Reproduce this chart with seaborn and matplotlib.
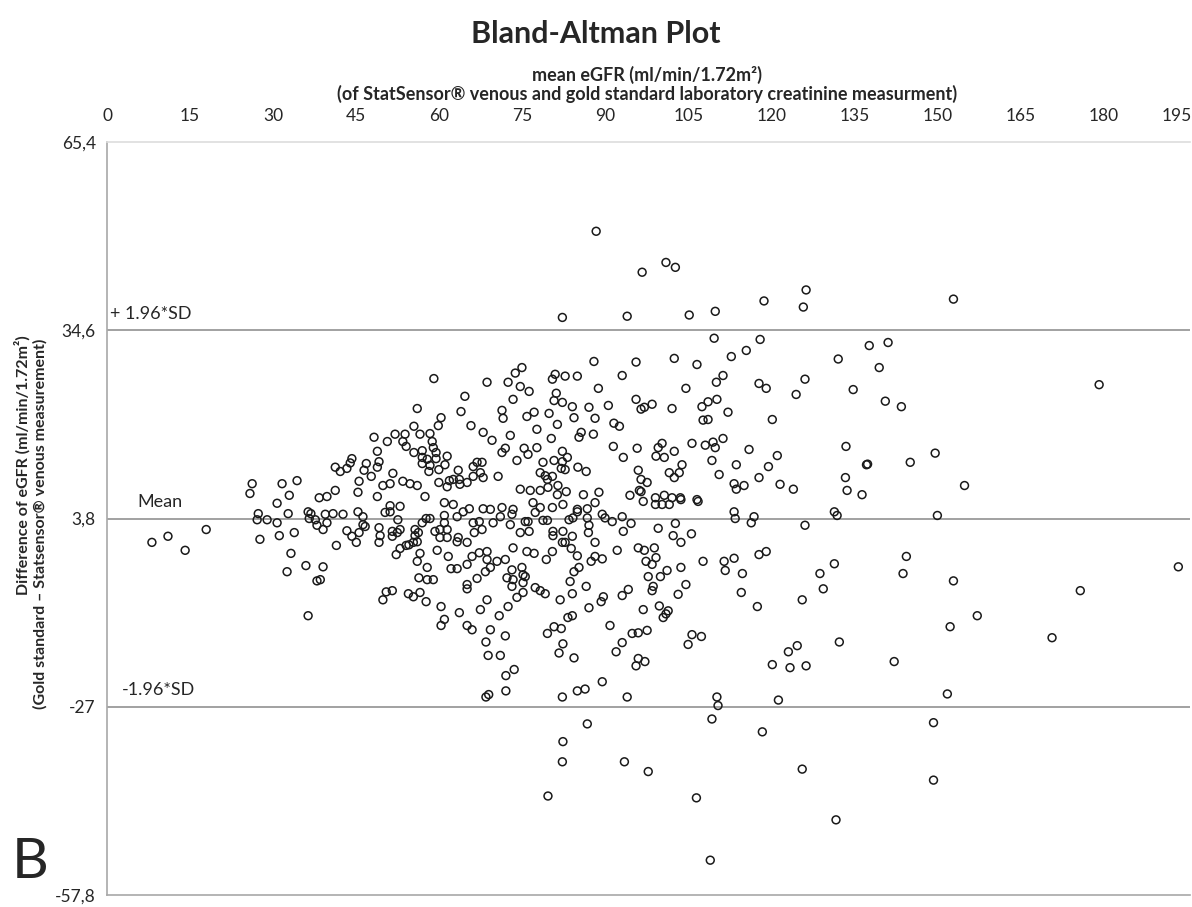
import matplotlib
matplotlib.use("Agg")
import matplotlib.pyplot as plt
import matplotlib.transforms as mtransforms
import seaborn as sns
import pandas as pd

# Bland-Altman data: mean eGFR (x) and difference (y)
mean_egfr = [
    8.1, 11.0, 14.1, 17.9,
    26.2, 25.8, 31.6, 34.3, 32.9, 30.7, 27.3, 27.1, 28.9, 30.7, 32.7, 36.3, 36.8, 36.5, 37.6, 37.9,
    27.6, 31.1, 33.8, 33.2, 35.9, 32.5, 37.9, 36.3, 38.3,
    59.0, 56.0, 60.3, 59.8, 55.4, 56.5, 58.3, 53.8, 52.0, 48.2, 50.6, 53.4, 54.0, 58.7, 56.9, 58.9,
    59.4, 55.4, 48.8, 61.4, 56.9, 57.8, 59.4, 56.9, 58.3, 61.0, 49.1, 46.8, 44.2, 43.9, 41.2, 42.1,
    43.3, 46.4, 47.7, 48.8, 51.6, 45.5, 49.8, 51.1, 53.4, 54.7, 56.0, 58.1, 59.9, 59.9, 61.8, 63.4,
    63.6, 65.0, 66.1, 66.8, 67.7, 67.4, 67.9, 66.1, 70.6, 74.0, 71.9, 71.3, 69.5, 67.9, 72.8, 65.7,
    63.9, 71.3, 71.5, 64.6, 68.6, 72.4, 73.3, 73.7, 41.2, 45.3, 48.8, 39.7, 57.4, 62.5, 63.7, 61.4,
    39.4, 40.8, 42.6, 39.7, 39.0, 41.4, 39.0, 38.5, 43.3, 44.2, 45.0, 45.5, 45.3, 46.2, 46.2, 46.6,
    49.1, 49.3, 49.1, 50.2, 51.1, 51.1, 52.9, 52.5, 51.5, 52.4, 51.5, 52.9, 52.2, 52.9, 54.0, 54.5,
    55.3, 56.0, 55.6, 56.2, 55.6, 56.5, 56.0, 56.9, 57.6, 58.3, 57.8, 59.6, 59.2, 60.1, 60.1, 60.9,
    60.9, 61.4, 60.9, 62.5, 61.4, 61.6, 62.1, 63.2, 63.2, 63.4, 63.2, 64.3, 65.0, 65.4, 66.1, 66.3,
    67.7, 67.2, 65.9, 67.2, 65.0, 68.6, 68.6, 69.2, 68.3, 70.4, 66.8, 65.0, 65.0, 67.9, 69.2, 69.7,
    71.3, 71.0, 73.1, 73.3, 72.8, 73.3, 71.9, 73.1, 72.2, 73.3, 73.1, 74.0, 72.4, 68.6, 67.4, 70.8,
    69.2, 71.9, 68.4, 68.8, 71.0, 72.0, 73.5, 72.0, 68.4, 68.9, 65.0, 65.9, 63.6, 60.9, 60.3, 60.3,
    57.6, 56.5, 55.3, 54.4, 51.5, 50.4, 49.8, 56.3, 57.8, 58.9,
    88.3, 96.6, 100.9, 102.6, 82.2, 93.9, 105.1, 109.8, 109.6, 87.9, 95.5, 102.4, 106.5, 74.9, 80.9,
    80.4, 82.7, 84.9, 93.0, 88.7, 104.5, 110.0, 110.1, 74.6, 76.2, 81.1, 80.7, 82.2, 84.0, 87.0,
    90.5, 95.5, 96.4, 97.0, 98.4, 102.0, 107.4, 108.5, 77.1, 75.8, 79.8, 84.3, 88.1, 107.6, 108.5,
    77.6, 81.3, 91.5, 92.5, 85.6, 85.2, 87.8, 80.2, 75.3, 77.6, 76.0, 91.4, 95.7, 99.5, 100.2, 102.4,
    105.6, 108.0, 109.4, 109.8, 82.2, 83.1, 80.7, 82.2, 78.7, 93.2, 99.1, 100.6, 109.2, 103.8, 82.0,
    82.7, 85.0, 86.5, 78.2, 79.1, 80.4, 79.5, 95.9, 96.4, 97.5, 101.5, 103.3, 102.4, 110.5, 79.6,
    81.4, 74.6, 76.4, 78.2, 82.9, 88.8, 86.0, 81.3, 96.1, 96.4, 94.4, 100.6, 99.0, 102.0, 103.5, 106.5,
    76.9, 78.2, 80.4, 82.3, 84.9, 86.7, 88.1, 77.3, 75.5, 76.0, 78.7, 79.5, 83.4, 84.1, 84.9, 86.7,
    89.4, 89.9, 91.2, 93.0, 94.6, 96.8, 99.0, 100.2, 101.5, 103.6, 106.7, 102.6, 105.5, 103.6, 102.2,
    99.5, 93.2, 87.0, 86.9, 74.6, 76.2, 80.5, 80.5, 82.3, 84.0, 82.2, 82.7, 88.1, 92.1, 95.9, 97.0,
    98.8, 75.8, 77.1, 80.4, 83.8, 84.9, 79.3, 88.1, 89.4, 87.4, 97.3, 98.4, 99.1, 107.6, 103.6, 101.1,
    99.9, 97.7, 74.9, 75.1, 75.5, 75.1, 84.3, 85.2, 83.6, 86.5, 77.3, 78.2, 79.1, 75.1, 84.0, 81.8,
    89.6, 89.2, 93.0, 94.1, 98.6, 98.4, 103.1, 104.5, 87.0, 96.8, 99.7, 101.3, 100.9, 100.4, 84.0,
    83.2, 90.8, 80.7, 82.0, 79.5, 94.8, 95.9, 97.5, 105.6, 107.3, 104.9, 82.3, 93.0, 81.6, 84.3, 91.9,
    95.9, 97.1, 95.5, 89.4, 84.9, 86.3, 82.2, 93.9, 110.1,
    86.7, 82.3, 82.2, 93.4, 97.7, 79.6, 106.4, 108.9, 109.2, 110.3,
    118.6, 126.2, 125.7, 152.8, 117.9, 115.4, 112.7, 111.2, 117.7, 119.0, 126.0, 124.4, 132.0, 137.6,
    141.0, 139.4, 134.7, 140.5, 143.4, 112.1, 120.1, 111.2, 115.9, 113.6, 121.0, 119.4, 117.7, 113.2,
    113.6, 115.0, 121.5, 123.9, 133.4, 137.1, 137.3, 145.0, 149.5, 133.3, 133.6, 136.3,
    113.2, 113.4, 116.8, 116.3, 126.0, 131.3, 131.8, 149.9, 111.4, 113.2, 111.6, 114.7, 117.7, 119.0,
    114.5, 117.4, 125.5, 128.7, 129.3, 131.3, 144.3, 143.7, 152.8, 152.2, 124.6, 123.0, 120.1, 123.3,
    126.2, 132.2, 142.1, 151.7, 121.2, 118.3, 125.5, 131.6, 149.2, 149.2,
    179.1, 154.8, 193.4, 175.7, 170.6, 157.1,
]

diff_egfr = [
    -0.1, 0.9, -1.4, 2.0,
    9.5, 7.9, 9.5, 10.0, 7.6, 6.3, 4.6, 3.6, 3.6, 3.1, 4.6, 4.9, 4.6, 3.8, 3.6, 2.7,
    0.4, 1.0, 1.5, -1.9, -3.9, -4.9, -6.4, -12.1, 7.2,
    26.7, 21.8, 20.3, 19.0, 18.9, 17.6, 17.7, 17.6, 17.6, 17.1, 16.4, 16.4, 15.6, 16.4, 14.9, 15.4,
    14.6, 14.6, 14.8, 14.0, 13.8, 13.5, 13.6, 12.8, 12.5, 12.6, 13.1, 12.8, 13.6, 12.9, 12.2, 11.5,
    12.0, 11.7, 10.7, 12.2, 11.2, 9.9, 9.2, 9.5, 9.9, 9.5, 9.2, 11.5, 11.8, 9.7, 10.0, 11.7,
    10.2, 9.7, 12.3, 13.0, 13.0, 11.3, 10.5, 10.7, 10.7, 13.3, 15.3, 14.6, 16.6, 17.9, 17.4, 19.0,
    21.3, 21.5, 20.2, 23.8, 26.1, 26.1, 23.3, 27.6, 8.4, 8.1, 7.4, 7.4, 7.4, 10.2, 9.4, 9.0,
    4.5, 4.6, 4.5, 3.1, 2.0, -0.6, -4.1, -6.2, 1.8, 0.9, -0.1, 1.5, 4.9, 4.1, 2.8, 2.5,
    2.3, 1.0, -0.1, 4.8, 4.9, 5.9, 5.8, 3.6, 1.7, 1.5, 0.9, 2.0, -2.1, -1.1, -0.6, -0.5,
    -0.1, 0.0, 1.0, 1.5, 2.0, -1.9, -3.2, 3.1, 3.8, 3.8, -4.2, -1.4, 1.7, 2.0, 0.7, 4.3,
    3.1, 2.0, 6.4, 6.1, 0.7, -2.4, -4.4, -4.4, 0.0, 0.7, 4.1, 4.9, -0.1, 5.4, 3.1, 1.5,
    2.0, 3.3, -2.4, -1.8, -3.7, -1.6, -2.9, -4.2, -4.9, -3.2, -6.0, -7.0, -7.7, 5.4, 5.3, 3.1,
    5.6, 4.1, 4.5, 5.3, 2.8, -1.0, -2.9, -4.6, -5.9, -6.2, -7.3, -9.1, -10.6, -9.5, -11.1, -12.1,
    -14.4, -15.4, -16.4, -18.6, -18.6, -21.9, -20.9, -24.4, -25.4, -25.0, -13.7, -14.4, -11.6, -12.7, -13.7, -10.6,
    -9.8, -8.3, -9.0, -8.5, -8.0, -8.2, -9.5, -5.9, -6.2, -6.2,
    50.8, 44.1, 45.7, 44.9, 36.7, 36.9, 37.1, 37.7, 33.3, 29.5, 29.4, 30.0, 29.0, 28.5, 27.4,
    26.6, 27.1, 27.1, 27.2, 25.1, 25.1, 26.1, 23.3, 25.4, 24.6, 24.3, 23.1, 22.8, 22.1, 22.0,
    22.3, 23.3, 21.7, 22.0, 22.5, 21.8, 22.1, 22.9, 21.2, 20.5, 21.0, 20.3, 20.2, 19.9, 20.0,
    18.4, 19.2, 19.4, 18.9, 17.9, 17.1, 17.6, 16.9, 15.3, 15.4, 14.3, 15.6, 15.3, 15.4, 16.1, 14.8,
    16.1, 15.8, 16.3, 15.4, 14.8, 13.8, 13.3, 13.1, 13.0, 13.8, 14.0, 13.8, 13.3, 12.6, 12.0,
    11.8, 12.2, 11.5, 11.3, 10.8, 10.7, 10.2, 11.7, 10.2, 9.7, 11.3, 11.3, 10.5, 11.0, 8.9,
    9.2, 8.6, 8.4, 8.4, 8.2, 8.1, 7.7, 7.7, 8.4, 8.2, 7.6, 7.6, 7.2, 7.2, 7.2, 6.9,
    6.4, 5.6, 5.6, 6.1, 5.3, 5.4, 6.4, 4.8, 3.3, 3.3, 3.5, 3.5, 3.6, 3.9, 4.9, 3.9,
    4.5, 3.9, 3.3, 4.1, 3.0, 6.6, 6.1, 6.1, 6.1, 6.9, 6.6, 3.0, 1.3, -0.1, 1.0,
    2.2, 1.7, 2.7, 1.5, 1.5, 1.7, 1.7, 1.0, 1.7, 0.9, -0.1, -0.1, -0.1, -1.4, -1.0, -1.4,
    -1.0, -1.6, -1.9, -1.6, -1.1, -2.3, -2.9, -2.4, -2.8, -3.2, -3.2, -3.7, -2.6, -3.2, -4.2, -4.7,
    -5.7, -5.7, -4.2, -5.4, -5.7, -6.7, -4.9, -4.2, -6.5, -7.3, -7.5, -8.0, -8.5, -8.3, -8.5, -9.5,
    -9.0, -9.8, -8.8, -7.8, -7.3, -8.0, -8.6, -7.0, -10.8, -11.1, -10.5, -11.3, -11.8, -12.4, -12.1,
    -12.4, -13.7, -13.9, -14.2, -15.0, -15.0, -14.9, -14.5, -15.2, -15.5, -16.8, -16.7, -16.5, -18.2, -19.0, -18.0,
    -19.1, -19.6, -20.3, -22.9, -24.4, -24.1, -25.4, -25.4, -25.4,
    -29.8, -32.7, -36.0, -36.0, -37.6, -41.6, -41.9, -52.1, -29.0, -26.8,
    39.4, 41.2, 38.4, 39.7, 33.1, 31.3, 30.3, 27.2, 25.9, 25.1, 26.6, 24.1, 29.9, 32.1,
    32.6, 28.5, 24.9, 23.0, 22.1, 21.2, 20.0, 16.9, 15.1, 12.6, 14.1, 12.3, 10.5, 9.5,
    8.6, 9.2, 9.4, 8.6, 15.6, 12.6, 12.7, 13.0, 14.5, 10.5, 8.4, 7.7,
    4.9, 3.8, 4.1, 3.1, 2.7, 4.9, 4.3, 4.3, -3.2, -2.7, -4.7, -5.2, -2.1, -1.6,
    -8.3, -10.6, -9.5, -5.2, -7.7, -3.6, -2.4, -5.2, -6.4, -13.9, -17.0, -18.0, -20.1, -20.6,
    -20.3, -16.4, -19.6, -24.9, -25.9, -31.1, -37.2, -45.5, -29.6, -39.0,
    25.7, 9.2, -4.1, -8.0, -15.7, -12.1,
]

x_ticks = list(range(0, 196, 15))
y_ticks = [65.4, 34.6, 3.8, -27, -57.8]
y_tick_labels = ["65,4", "34,6", "3,8", "-27", "-57,8"]
limit_lines = [34.6, 3.8, -27]

df = pd.DataFrame({"mean": mean_egfr, "diff": diff_egfr})

sns.set_style("white")
plt.rcParams["font.family"] = ["Lato", "DejaVu Sans"]

fig = plt.figure(figsize=(11.92, 9.07), dpi=100)
ax = fig.add_axes([0.0898, 0.0132, 0.9085, 0.8302])

sns.scatterplot(data=df, x="mean", y="diff", ax=ax, marker="o", s=32,
                facecolor="none", edgecolor="#1a1a1a", linewidth=1.1, zorder=3)

for yv in limit_lines:
    ax.axhline(yv, color="#9a9a9a", lw=1.3, zorder=1)

ax.set_xlim(0, 195.5)
ax.set_ylim(-57.8, 65.4)
ax.xaxis.tick_top()
ax.set_xticks(x_ticks)
ax.set_xticklabels([str(v) for v in x_ticks], fontsize=12.5)
ax.set_yticks(y_ticks)
ax.set_yticklabels(y_tick_labels, fontsize=12.5)
ax.tick_params(axis="x", length=0, pad=13)
ax.tick_params(axis="y", length=5, width=1, color="#9a9a9a", pad=3)
ax.set_xlabel("")
ax.set_ylabel("")

# nudge the last x tick label so it stays inside the figure
last_lbl = ax.get_xticklabels()[-1]
last_lbl.set_transform(last_lbl.get_transform() +
                       mtransforms.ScaledTranslation(-10 / 100, 0, fig.dpi_scale_trans))

for side in ["left", "bottom", "top"]:
    ax.spines[side].set_color("#a8a8a8")
    ax.spines[side].set_linewidth(1.2)
ax.spines["top"].set_color("#dddddd")
ax.spines["right"].set_visible(False)

# reference line labels
ax.text(0.5, 36.0, "+ 1.96*SD", fontsize=13, va="bottom", ha="left")
ax.text(5.4, 5.2, "Mean", fontsize=13, va="bottom", ha="left")
ax.text(2.7, -25.6, "-1.96*SD", fontsize=13, va="bottom", ha="left")

fig.text(0.5, 0.962, "Bland-Altman Plot", fontsize=22, fontweight="bold",
         ha="center", va="center")
fig.text(0.543, 0.917, "mean eGFR (ml/min/1.72m²)", fontsize=13, fontweight="bold",
         ha="center", va="center")
fig.text(0.543, 0.896,
         "(of StatSensor® venous and gold standard laboratory creatinine measurment)",
         fontsize=13, fontweight="bold", ha="center", va="center")
fig.text(0.019, 1 - 465 / 907, "Difference of eGFR (ml/min/1.72m²)", fontsize=11.5,
         fontweight="bold", rotation=90, ha="center", va="center")
fig.text(0.034, 1 - 524 / 907, "(Gold standard – Statsensor® venous measurement)",
         fontsize=11.5, fontweight="bold", rotation=90, ha="center", va="center")
fig.text(0.025, 1 - 862 / 907, "B", fontsize=41, ha="center", va="center")

fig.savefig("out.png", dpi=100)
